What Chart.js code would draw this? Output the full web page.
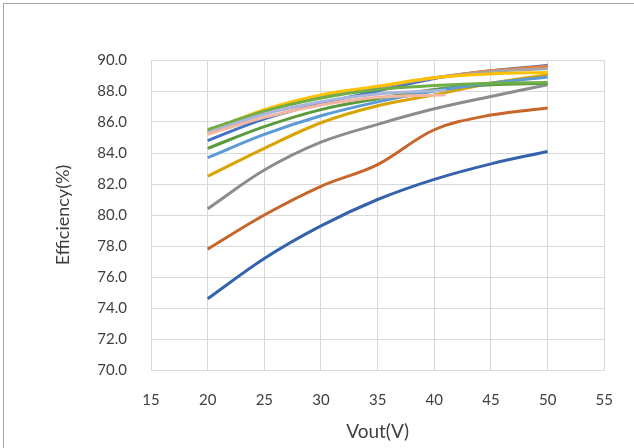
<!DOCTYPE html>
<html>
<head>
<meta charset="utf-8">
<script src="https://cdn.jsdelivr.net/npm/chart.js@4"></script>
<style>
  html, body { margin: 0; padding: 0; background: #fff; overflow: hidden; }
  #wrap { position: relative; width: 634px; height: 448px; }
  #frame { position: absolute; left: 3px; top: 3px; width: 660px; height: 470px; border: 1px solid #a6a6a6; box-sizing: border-box; }
  canvas { position: absolute; left: 0; top: 0; }
</style>
</head>
<body>
<div id="wrap">
  <div id="frame"></div>
  <canvas id="chart" width="634" height="448"></canvas>
</div>
<script>
// Vout points (V)
const vout = [20, 25, 30, 35, 40, 45, 50];
const voutShort = [20, 25, 30, 35, 41];

// Efficiency curves (%)
const effDarkBlue   = [74.6, 77.2, 79.3, 81.0, 82.3, 83.3, 84.1];
const effDarkOrange = [77.8, 80.0, 81.85, 83.25, 85.5, 86.45, 86.9];
const effGray       = [80.4, 82.9, 84.7, 85.85, 86.85, 87.65, 88.4];
const effDarkGold   = [82.5, 84.3, 85.95, 87.05, 87.75, 88.5, 89.05];
const effSteelBlue  = [83.7, 85.2, 86.4, 87.3, 88.0, 88.5, 88.9];
const effDarkGreen  = [84.3, 85.7, 86.8, 87.5, 88.1, 88.4, 88.5];
const effBlue       = [84.8, 86.2, 87.2, 88.0, 88.8, 89.3, 89.65];
const effOrange     = [85.3, 86.7, 87.6, 88.25, 88.85, 89.3, 89.6];
const effLightGray  = [85.3, 86.7, 87.6, 88.25, 88.85, 89.25, 89.45];
const effGold       = [85.4, 86.8, 87.75, 88.3, 88.85, 89.1, 89.2];
const effGreen      = [85.5, 86.7, 87.55, 88.1, 88.35, 88.5, 88.55];
const effLavender   = [85.3, 86.5, 87.3, 87.8, 88.05];
const effPink       = [85.2, 86.3, 87.1, 87.6, 87.75];

// axis ranges
const yMin = 70, yMax = 90, yStep = 2;
const xMin = 15, xMax = 55, xStep = 5;

// later entries are drawn underneath
const series = [
  { x: voutShort, y: effPink, color: '#f4b6a1' },
  { x: voutShort, y: effLavender, color: '#a9b5dc' },
  { x: vout, y: effGreen, color: '#70ad47' },
  { x: vout, y: effGold, color: '#ffc000' },
  { x: vout, y: effLightGray, color: '#a5a5a5' },
  { x: vout, y: effOrange, color: '#ed7d31' },
  { x: vout, y: effBlue, color: '#4472c4' },
  { x: vout, y: effSteelBlue, color: '#5b9bd5' },
  { x: vout, y: effDarkGreen, color: '#5a9a3c' },
  { x: vout, y: effDarkGold, color: '#d9a300' },
  { x: vout, y: effGray, color: '#8c8c8c' },
  { x: vout, y: effDarkOrange, color: '#c8652b' },
  { x: vout, y: effDarkBlue, color: '#3562ac' }
];

const datasets = series.map(s => ({
  data: s.x.map((v, i) => ({ x: v, y: s.y[i] })),
  borderColor: s.color,
  backgroundColor: s.color,
  borderWidth: 3,
  showLine: true,
  pointRadius: 0,
  tension: 0.35,
  fill: false
}));

const fontFamily = 'Lato, "Open Sans", sans-serif';
const tickFont = { family: fontFamily, size: 15 };
const gridColor = '#d9d9d9';

new Chart(document.getElementById('chart'), {
  type: 'scatter',
  data: { datasets },
  options: {
    responsive: false,
    animation: false,
    layout: { padding: { top: 60, right: 28, bottom: 0, left: 0 } },
    plugins: { legend: { display: false }, tooltip: { enabled: false } },
    scales: {
      x: {
        type: 'linear',
        min: xMin, max: xMax,
        ticks: { stepSize: xStep, color: '#404040', font: tickFont, padding: 21 },
        grid: { color: gridColor, drawTicks: false },
        border: { color: gridColor },
        title: { display: true, text: 'Vout(V)', color: '#404040',
                 font: { family: fontFamily, size: 19 }, padding: { top: 0, bottom: 5 } },
        afterFit: (s) => { s.height = 78; }
      },
      y: {
        min: yMin, max: yMax,
        ticks: { stepSize: yStep, color: '#404040', font: tickFont, padding: 24,
                 callback: v => v.toFixed(1) },
        grid: { color: gridColor, drawTicks: false },
        border: { color: gridColor },
        title: { display: true, text: 'Efficiency(%)', color: '#404040',
                 font: { family: fontFamily, size: 18 }, padding: { top: 52, bottom: 0 } },
        afterFit: (s) => { s.width = 151; }
      }
    }
  }
});
</script>
</body>
</html>
